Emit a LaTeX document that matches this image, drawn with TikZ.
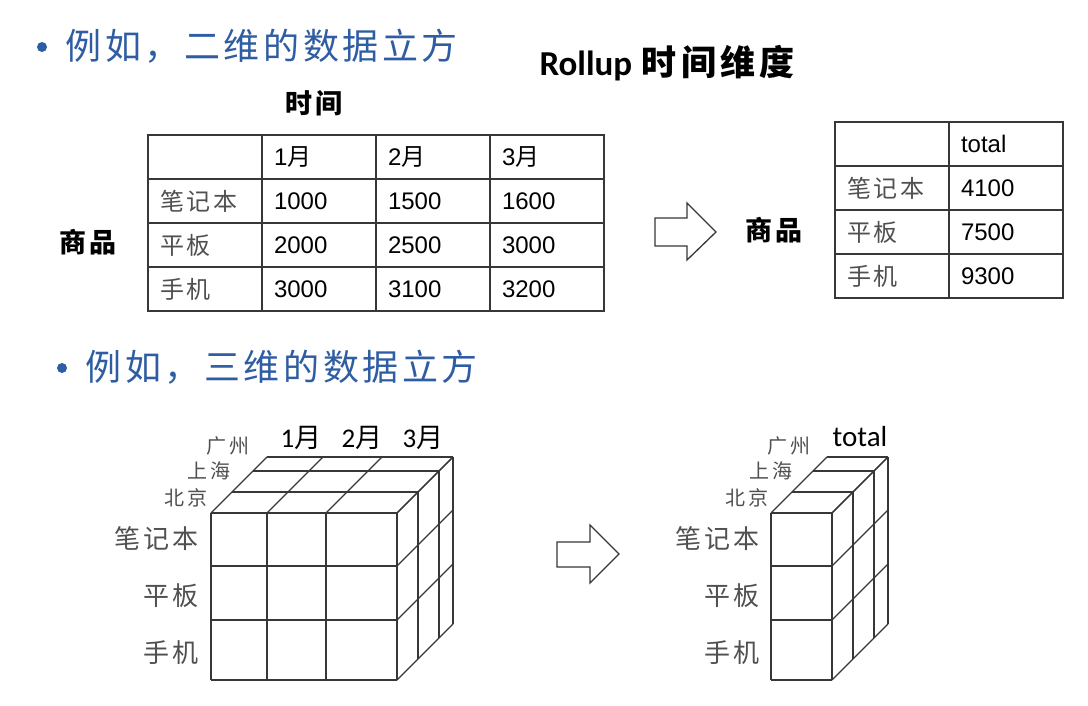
\documentclass[tikz,border=0pt]{standalone}
\usepackage{fontspec}
\setmainfont{Liberation Sans}
\newfontfamily\cjk[LetterSpace=12]{Noto Sans CJK SC}
\newfontfamily\cjktitle[LetterSpace=10]{Noto Sans CJK SC}
\newfontfamily\calib{Carlito}
\usetikzlibrary{positioning}
\definecolor{titleblue}{RGB}{47,93,163}
\definecolor{gridgray}{RGB}{55,55,55}
\definecolor{labgray}{RGB}{80,80,80}

\begin{document}
\begin{tikzpicture}[x=1pt, y=-1pt,
    cell/.style={draw=gridgray, line width=1.4pt, minimum width=114pt, minimum height=44pt,
      text width=90pt, inner xsep=12pt, inner ysep=0pt, align=left,
      font=\fontsize{24}{24}\selectfont},
    bigcjk/.style={font=\fontsize{27}{27}\selectfont\cjk\bfseries},
    small/.style={font=\fontsize{20}{20}\selectfont\cjk, text=labgray, inner sep=0pt},
    side/.style={font=\fontsize{26}{26}\selectfont\cjk, text=labgray, inner sep=0pt, anchor=east},
    top/.style={font=\fontsize{27}{27}\selectfont, inner sep=0pt},
    cubeline/.style={draw=gridgray, line width=1.3pt},
    blockarrow/.style={draw=gridgray, line width=1.3pt, line join=miter},
    dot/.style={circle, fill=titleblue, inner sep=0pt, minimum size=10pt}]

    \fill[white] (0,0) rectangle (1088,706);
    \useasboundingbox (0,0) rectangle (1088,706);

    % Headings
    \node[dot] (dot1) at (42,47) {};
    \node[anchor=west, text=titleblue, font=\fontsize{36}{36}\selectfont\cjktitle] (head1) at (62,46) {例如，二维的数据立方};
    \node[dot] (dot2) at (62,368) {};
    \node[anchor=west, text=titleblue, font=\fontsize{36}{36}\selectfont\cjktitle] (head2) at (82,367) {例如，三维的数据立方};
    \node (rollup) at (667,63) {\fontsize{35}{35}\selectfont{\calib\bfseries Rollup} {\cjk\bfseries 时间维度}};

    % Two-dimensional table
    \node[bigcjk] (time) at (314,103) {时间};
    \node[bigcjk] (goods) at (88,242) {商品};
    \node[cell] (L00) at (205,157) {};
    \foreach \m [count=\j] in {1,2,3}
      \node[cell] (L0\j) at ({205+114*\j},157) {\m{\cjk 月}};
    \foreach \name/\a/\b/\c [count=\i] in {笔记本/1000/1500/1600, 平板/2000/2500/3000, 手机/3000/3100/3200} {
      \node[cell, text=labgray] (L\i0) at (205,{157+44*\i}) {\cjk\name};
      \node[cell] (L\i1) at (319,{157+44*\i}) {\a};
      \node[cell] (L\i2) at (433,{157+44*\i}) {\b};
      \node[cell] (L\i3) at (547,{157+44*\i}) {\c};
    }

    % Rolled-up table
    \draw[blockarrow] (655,218) -- (687,218) -- (687,203) -- (716,232) -- (687,260) -- (687,246) -- (655,246) -- cycle;
    \node[bigcjk] (goods2) at (774,230) {商品};
    \node[cell] (R00) at (892,144) {};
    \node[cell] (R01) at (1006,144) {total};
    \foreach \name/\s [count=\i] in {笔记本/4100, 平板/7500, 手机/9300} {
      \node[cell, text=labgray] (R\i0) at (892,{144+44*\i}) {\cjk\name};
      \node[cell] (R\i1) at (1006,{144+44*\i}) {\s};
    }

    % Three-dimensional cube
    \foreach \x in {211,267,326,397} {
      \draw[cubeline] (\x,513) -- (\x,680);
      \draw[cubeline] (\x,513) -- ++(56,-56);
    }
    \foreach \y in {513,566,620,680} {
      \draw[cubeline] (211,\y) -- (397,\y);
      \draw[cubeline] (397,\y) -- ++(56,-56);
    }
    \foreach \d in {21,42,56} {
      \draw[cubeline] ({211+\d},{513-\d}) -- ({397+\d},{513-\d});
      \draw[cubeline] ({397+\d},{513-\d}) -- ({397+\d},{680-\d});
    }
    \node[small] (gz) at (228,446) {广州};
    \node[small] (sh) at (209,471) {上海};
    \node[small] (bj) at (186,498) {北京};
    \node[top] (m1) at (301,438) {{\calib 1}{\cjk 月}};
    \node[top] (m2) at (362,438) {{\calib 2}{\cjk 月}};
    \node[top] (m3) at (423,438) {{\calib 3}{\cjk 月}};
    \node[side] (nb) at (199,539) {笔记本};
    \node[side] (pb) at (199,596) {平板};
    \node[side] (sj) at (199,653) {手机};

    % Rolled-up cube
    \draw[blockarrow] (557,542) -- (590,542) -- (590,525) -- (619,554) -- (590,583) -- (590,567) -- (557,567) -- cycle;
    \foreach \x in {771,832} {
      \draw[cubeline] (\x,513) -- (\x,680);
      \draw[cubeline] (\x,513) -- ++(56,-56);
    }
    \foreach \y in {513,566,620,680} {
      \draw[cubeline] (771,\y) -- (832,\y);
      \draw[cubeline] (832,\y) -- ++(56,-56);
    }
    \foreach \d in {21,42,56} {
      \draw[cubeline] ({771+\d},{513-\d}) -- ({832+\d},{513-\d});
      \draw[cubeline] ({832+\d},{513-\d}) -- ({832+\d},{680-\d});
    }
    \node[small] (gz2) at (789,446) {广州};
    \node[small] (sh2) at (771,471) {上海};
    \node[small] (bj2) at (747,498) {北京};
    \node[top, font=\fontsize{29}{29}\selectfont\calib] (tot) at (860,437) {total};
    \node[side] (nb2) at (760,539) {笔记本};
    \node[side] (pb2) at (760,596) {平板};
    \node[side] (sj2) at (760,653) {手机};

\end{tikzpicture}
\end{document}
